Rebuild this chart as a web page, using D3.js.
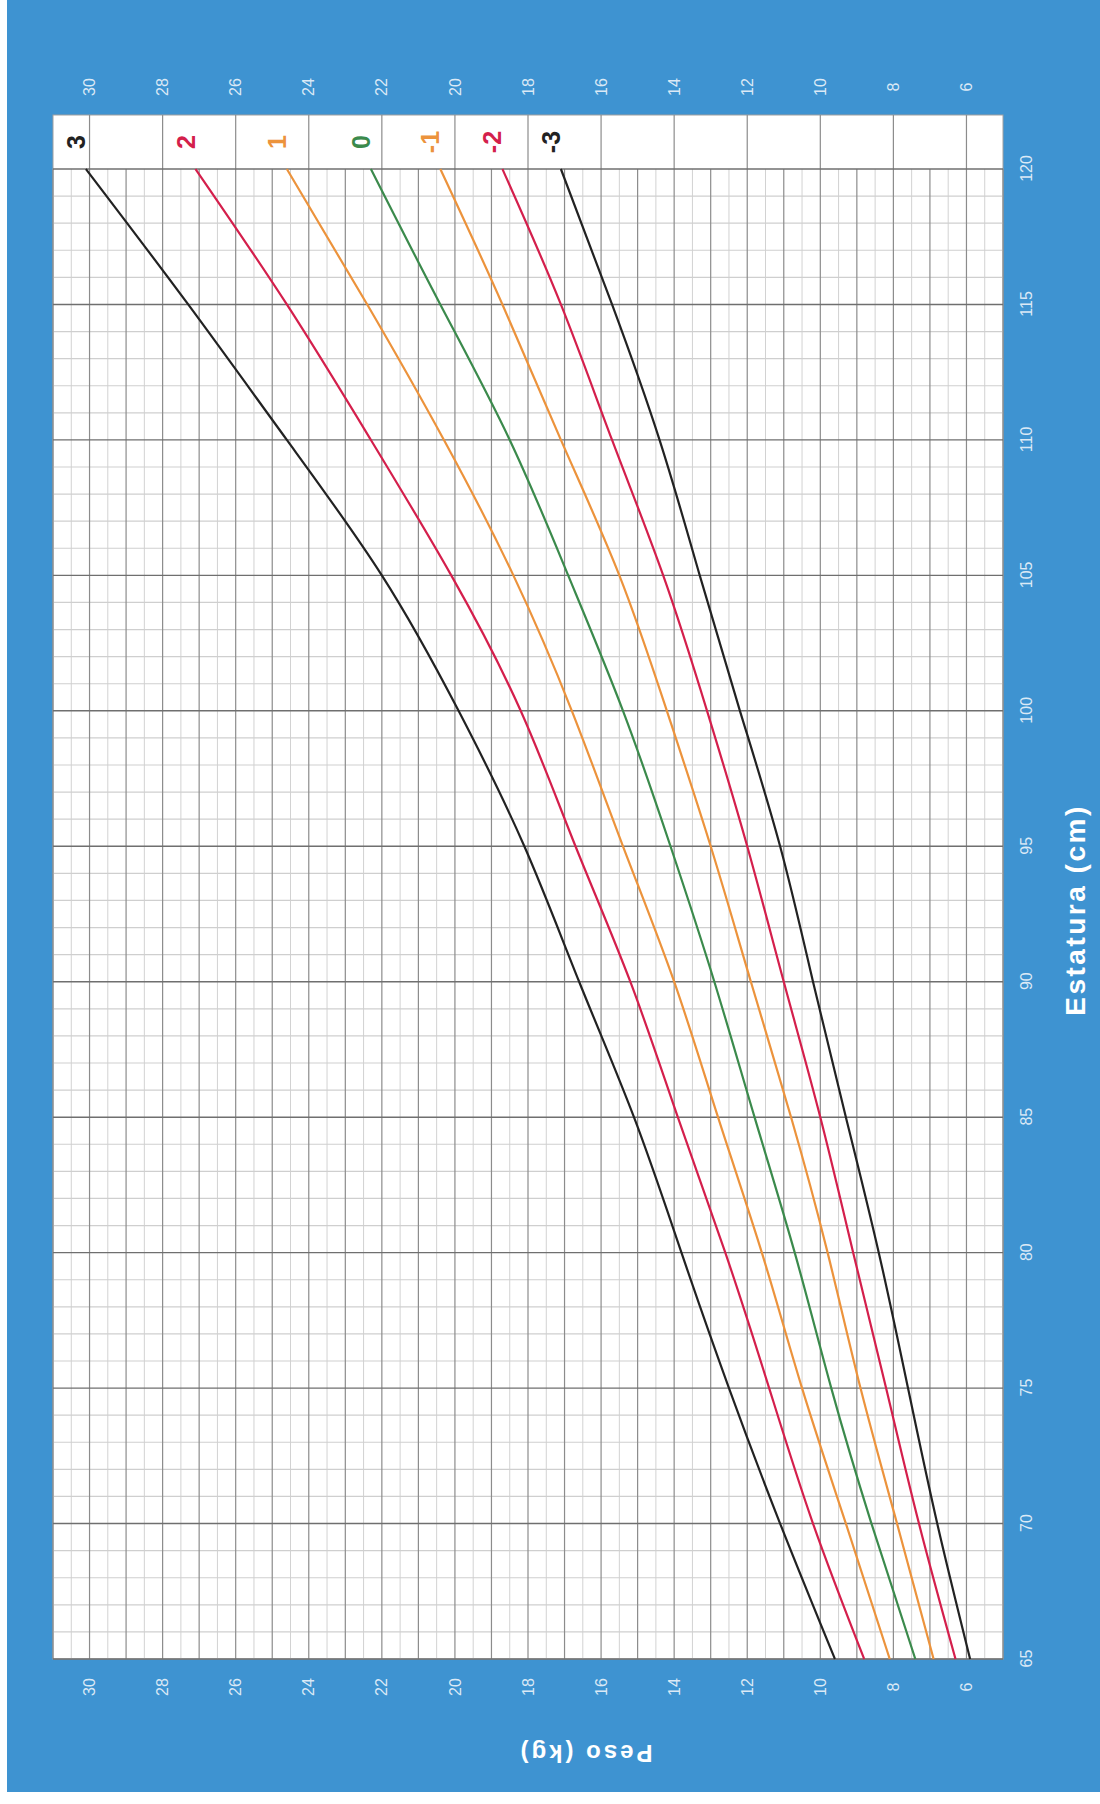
<!DOCTYPE html>
<html>
<head>
<meta charset="utf-8">
<script src="https://cdn.jsdelivr.net/npm/d3@7"></script>
<style>
  body { margin: 0; background: #ffffff; }
  text { font-family: "Liberation Sans", Arial, sans-serif; }
</style>
</head>
<body>
<div id="chart"></div>
<script>
// weight-for-height curves, every 5 cm
var heights = [65, 70, 75, 80, 85, 90, 95, 100, 105, 110, 115, 120];
var sdMinus3 = [5.9, 6.8, 7.6, 8.4, 9.3, 10.2, 11.1, 12.2, 13.3, 14.4, 15.7, 17.1];
var sdMinus2 = [6.3, 7.3, 8.2, 9.1, 10.0, 11.0, 12.0, 13.1, 14.3, 15.7, 17.1, 18.7];
var sdMinus1 = [6.9, 7.9, 8.9, 9.8, 10.8, 11.9, 13.0, 14.2, 15.5, 17.1, 18.7, 20.4];
var sd0 = [7.4, 8.6, 9.7, 10.7, 11.8, 12.9, 14.1, 15.4, 16.9, 18.5, 20.4, 22.3];
var sd1 = [8.1, 9.3, 10.5, 11.6, 12.8, 14.0, 15.4, 16.8, 18.4, 20.3, 22.4, 24.6];
var sd2 = [8.8, 10.2, 11.4, 12.6, 13.9, 15.2, 16.7, 18.2, 20.1, 22.3, 24.6, 27.1];
var sd3 = [9.6, 11.1, 12.5, 13.8, 15.1, 16.6, 18.1, 19.9, 22.0, 24.6, 27.3, 30.1];

var curveLabels = ["3", "2", "1", "0", "-1", "-2", "-3"];
var curveValues = [sd3, sd2, sd1, sd0, sdMinus1, sdMinus2, sdMinus3];
var curveColors = ["#222222", "#d41f4c", "#ec933c", "#3b8a4c", "#ec933c", "#d41f4c", "#222222"];

var weightTicks = [6, 8, 10, 12, 14, 16, 18, 20, 22, 24, 26, 28, 30];
var heightTicks = [65, 70, 75, 80, 85, 90, 95, 100, 105, 110, 115, 120];

function WeightForHeight() {
  var pageW = 1100,
    pageH = 1804;

  var svg = d3
    .select("#chart")
    .append("svg")
    .attr("width", pageW)
    .attr("height", pageH);

  // blue card
  svg
    .append("rect")
    .attr("x", 7)
    .attr("y", 0)
    .attr("width", pageW - 7)
    .attr("height", 1792)
    .style("fill", "#3e93d1");

  // the chart is drawn the usual way and then turned a quarter turn
  var plotW = 1490, // 65 -> 120 cm
    bandW = 54, // label column after 120 cm
    plotH = 950;

  var g = svg
    .append("g")
    .attr("transform", "translate(53, 1659) rotate(-90)");

  var x = d3
    .scaleLinear()
    .domain([65, 120])
    .range([0, plotW]);

  var y = d3
    .scaleLinear()
    .domain([5, 31])
    .range([plotH, 0]);

  g.append("rect")
    .attr("width", plotW + bandW)
    .attr("height", plotH)
    .style("fill", "#ffffff")
    .style("stroke", "#a0a0a0")
    .style("stroke-width", 1);

  // grid
  var halfKg = d3.range(10, 63).map(function(i) {
    return i / 2;
  });
  var cms = d3.range(65, 121);

  var grid = g.append("g").attr("class", "grid");

  grid
    .selectAll("line.hlight")
    .data(halfKg.filter(function(d) { return d % 1 !== 0; }))
    .enter()
    .append("line")
    .attr("x1", 0)
    .attr("x2", plotW)
    .attr("y1", function(d) { return y(d); })
    .attr("y2", function(d) { return y(d); })
    .style("stroke", "#d2d2d2")
    .style("stroke-width", 1);

  grid
    .selectAll("line.vlight")
    .data(cms.filter(function(d) { return d % 5 !== 0; }))
    .enter()
    .append("line")
    .attr("x1", function(d) { return x(d); })
    .attr("x2", function(d) { return x(d); })
    .attr("y1", 0)
    .attr("y2", plotH)
    .style("stroke", "#cfcfcf")
    .style("stroke-width", 1.2);

  grid
    .selectAll("line.hdark")
    .data(halfKg.filter(function(d) { return d % 1 === 0; }))
    .enter()
    .append("line")
    .attr("x1", 0)
    .attr("x2", plotW)
    .attr("y1", function(d) { return y(d); })
    .attr("y2", function(d) { return y(d); })
    .style("stroke", "#8c8c8c")
    .style("stroke-width", 1.2);

  grid
    .selectAll("line.band")
    .data(weightTicks)
    .enter()
    .append("line")
    .attr("x1", plotW)
    .attr("x2", plotW + bandW)
    .attr("y1", function(d) { return y(d); })
    .attr("y2", function(d) { return y(d); })
    .style("stroke", "#8c8c8c")
    .style("stroke-width", 1.2);

  grid
    .selectAll("line.vdark")
    .data(cms.filter(function(d) { return d % 5 === 0; }))
    .enter()
    .append("line")
    .attr("x1", function(d) { return x(d); })
    .attr("x2", function(d) { return x(d); })
    .attr("y1", 0)
    .attr("y2", plotH)
    .style("stroke", "#6f6f6f")
    .style("stroke-width", 1.4);

  // curves
  var series = curveLabels.map(function(label, i) {
    return {
      label: label,
      color: curveColors[i],
      points: heights.map(function(h, j) {
        return { h: h, w: curveValues[i][j] };
      })
    };
  });

  var line = d3
    .line()
    .x(function(d) { return x(d.h); })
    .y(function(d) { return y(d.w); })
    .curve(d3.curveNatural);

  g.selectAll("path.curve")
    .data(series)
    .enter()
    .append("path")
    .attr("class", "curve")
    .attr("d", function(d) { return line(d.points); })
    .style("fill", "none")
    .style("stroke", function(d) { return d.color; })
    .style("stroke-width", 2.2);

  g.selectAll("text.curve-label")
    .data(series)
    .enter()
    .append("text")
    .attr("class", "curve-label")
    .attr("x", plotW + bandW / 2)
    .attr("y", function(d) {
      return y(d.points[d.points.length - 1].w) - 1;
    })
    .style("text-anchor", "middle")
    .style("font-size", "25px")
    .style("font-weight", "bold")
    .style("fill", function(d) { return d.color; })
    .text(function(d) { return d.label; });

  // axes
  var tickColor = "#dbe9f6";

  var left = g
    .append("g")
    .call(d3.axisLeft(y).tickValues(weightTicks).tickSize(0).tickPadding(28));
  var right = g
    .append("g")
    .attr("transform", "translate(" + (plotW + bandW) + ",0)")
    .call(d3.axisRight(y).tickValues(weightTicks).tickSize(0).tickPadding(28));

  [left, right].forEach(function(a) {
    a.select(".domain").remove();
    a.selectAll("text")
      .style("text-anchor", "middle")
      .style("font-size", "16px")
      .style("font-family", "Liberation Sans, Arial, sans-serif")
      .style("fill", tickColor);
  });

  var bottom = g
    .append("g")
    .attr("transform", "translate(0," + plotH + ")")
    .call(d3.axisBottom(x).tickValues(heightTicks).tickSize(0));
  bottom.select(".domain").remove();
  bottom
    .selectAll("text")
    .attr("y", 23)
    .attr("dy", "0.35em")
    .style("font-size", "16px")
    .style("font-family", "Liberation Sans, Arial, sans-serif")
    .style("fill", tickColor);

  g.append("text")
    .attr("x", 749)
    .attr("y", plotH + 72)
    .attr("dy", "0.35em")
    .style("text-anchor", "middle")
    .style("font-size", "28px")
    .style("font-weight", "bold")
    .style("letter-spacing", "2.5px")
    .style("fill", "#ffffff")
    .text("Estatura (cm)");

  g.append("text")
    .attr("transform", "translate(-94," + 532 + ") rotate(-90)")
    .attr("dy", "0.35em")
    .style("text-anchor", "middle")
    .style("font-size", "24px")
    .style("font-weight", "bold")
    .style("letter-spacing", "3px")
    .style("fill", "#ffffff")
    .text("Peso (kg)");
}

WeightForHeight();
</script>
</body>
</html>
